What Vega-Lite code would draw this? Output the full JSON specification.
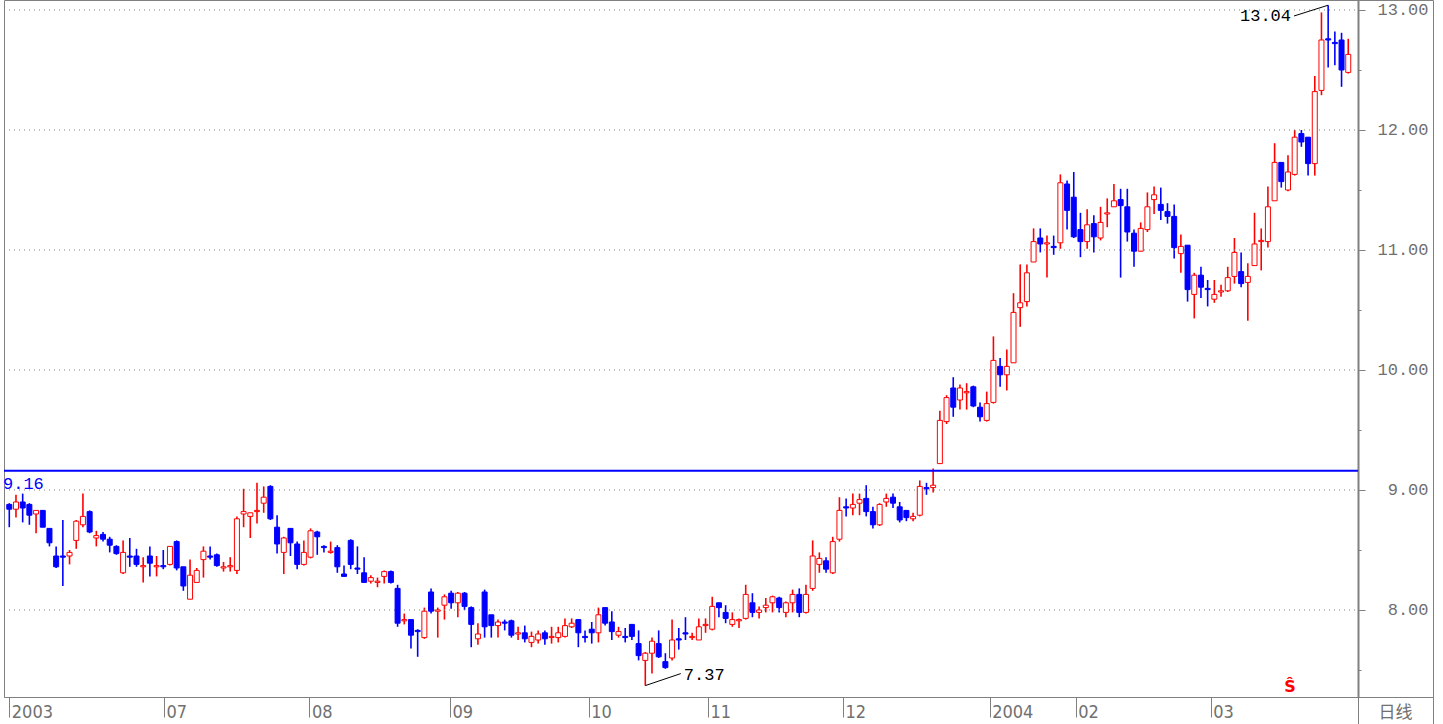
{
  "$schema": "https://vega.github.io/schema/vega-lite/v6.json",
  "width": 1429,
  "height": 697,
  "padding": {"left": 3, "top": 0, "right": 0, "bottom": 0},
  "background": "white",
  "config": {"view": {"stroke": "#808080", "strokeWidth": 1}},
  "datasets": {
    "grid": [{"level": 8}, {"level": 9}, {"level": 10}, {"level": 11}, {"level": 12}, {"level": 13}],
    "ref": [{"v": 9.16, "label": "9.16"}],
    "leaders": [
      {"g": "hi", "i": 191.9, "p": 12.95}, {"g": "hi", "i": 197, "p": 13.04},
      {"g": "lo", "i": 95, "p": 7.37}, {"g": "lo", "i": 100.3, "p": 7.47}
    ],
    "hiLabel": [{"t": "13.04", "i": 191.45, "p": 12.95}],
    "loLabel": [{"t": "7.37", "i": 100.75, "p": 7.46}],
    "mark": [{"t": "Ŝ", "i": 191.3, "p": 7.29}],
    "k": [
      {"i":0,"o":8.88,"h":8.89,"l":8.69,"c":8.84},
      {"i":1,"o":8.84,"h":8.96,"l":8.77,"c":8.90},
      {"i":2,"o":8.90,"h":8.97,"l":8.73,"c":8.85},
      {"i":3,"o":8.88,"h":8.89,"l":8.71,"c":8.79},
      {"i":4,"o":8.80,"h":8.83,"l":8.64,"c":8.83},
      {"i":5,"o":8.83,"h":8.83,"l":8.69,"c":8.69},
      {"i":6,"o":8.68,"h":8.68,"l":8.53,"c":8.56},
      {"i":7,"o":8.45,"h":8.53,"l":8.35,"c":8.36},
      {"i":8,"o":8.45,"h":8.75,"l":8.20,"c":8.44},
      {"i":9,"o":8.45,"h":8.50,"l":8.38,"c":8.48},
      {"i":10,"o":8.58,"h":8.75,"l":8.51,"c":8.74},
      {"i":11,"o":8.71,"h":8.97,"l":8.69,"c":8.78},
      {"i":12,"o":8.82,"h":8.83,"l":8.64,"c":8.65},
      {"i":13,"o":8.60,"h":8.66,"l":8.53,"c":8.62},
      {"i":14,"o":8.63,"h":8.65,"l":8.57,"c":8.59},
      {"i":15,"o":8.59,"h":8.61,"l":8.48,"c":8.54},
      {"i":16,"o":8.53,"h":8.54,"l":8.46,"c":8.47},
      {"i":17,"o":8.31,"h":8.58,"l":8.30,"c":8.48},
      {"i":18,"o":8.45,"h":8.60,"l":8.36,"c":8.44},
      {"i":19,"o":8.45,"h":8.51,"l":8.36,"c":8.38},
      {"i":20,"o":8.36,"h":8.44,"l":8.23,"c":8.37},
      {"i":21,"o":8.45,"h":8.53,"l":8.28,"c":8.39},
      {"i":22,"o":8.36,"h":8.45,"l":8.28,"c":8.37},
      {"i":23,"o":8.37,"h":8.50,"l":8.34,"c":8.36},
      {"i":24,"o":8.38,"h":8.53,"l":8.37,"c":8.53},
      {"i":25,"o":8.57,"h":8.58,"l":8.33,"c":8.35},
      {"i":26,"o":8.36,"h":8.36,"l":8.16,"c":8.20},
      {"i":27,"o":8.09,"h":8.42,"l":8.09,"c":8.29},
      {"i":28,"o":8.23,"h":8.35,"l":8.23,"c":8.33},
      {"i":29,"o":8.42,"h":8.53,"l":8.27,"c":8.49},
      {"i":30,"o":8.45,"h":8.53,"l":8.42,"c":8.44},
      {"i":31,"o":8.46,"h":8.47,"l":8.36,"c":8.37},
      {"i":32,"o":8.35,"h":8.40,"l":8.32,"c":8.36},
      {"i":33,"o":8.36,"h":8.44,"l":8.32,"c":8.37},
      {"i":34,"o":8.33,"h":8.78,"l":8.30,"c":8.76},
      {"i":35,"o":8.80,"h":9.01,"l":8.69,"c":8.82},
      {"i":36,"o":8.78,"h":8.81,"l":8.60,"c":8.81},
      {"i":37,"o":8.82,"h":9.06,"l":8.72,"c":8.83},
      {"i":38,"o":8.89,"h":9.03,"l":8.81,"c":8.94},
      {"i":39,"o":9.03,"h":9.04,"l":8.75,"c":8.76},
      {"i":40,"o":8.69,"h":8.79,"l":8.47,"c":8.55},
      {"i":41,"o":8.48,"h":8.61,"l":8.30,"c":8.60},
      {"i":42,"o":8.68,"h":8.68,"l":8.45,"c":8.56},
      {"i":43,"o":8.55,"h":8.57,"l":8.34,"c":8.38},
      {"i":44,"o":8.38,"h":8.58,"l":8.37,"c":8.48},
      {"i":45,"o":8.44,"h":8.68,"l":8.43,"c":8.66},
      {"i":46,"o":8.65,"h":8.66,"l":8.46,"c":8.61},
      {"i":47,"o":8.53,"h":8.54,"l":8.48,"c":8.52},
      {"i":48,"o":8.48,"h":8.57,"l":8.47,"c":8.49},
      {"i":49,"o":8.52,"h":8.54,"l":8.31,"c":8.36},
      {"i":50,"o":8.30,"h":8.37,"l":8.28,"c":8.28},
      {"i":51,"o":8.58,"h":8.59,"l":8.34,"c":8.38},
      {"i":52,"o":8.35,"h":8.53,"l":8.30,"c":8.34},
      {"i":53,"o":8.31,"h":8.44,"l":8.23,"c":8.23},
      {"i":54,"o":8.24,"h":8.29,"l":8.22,"c":8.27},
      {"i":55,"o":8.23,"h":8.27,"l":8.19,"c":8.24},
      {"i":56,"o":8.28,"h":8.33,"l":8.22,"c":8.32},
      {"i":57,"o":8.32,"h":8.33,"l":8.22,"c":8.23},
      {"i":58,"o":8.18,"h":8.21,"l":7.86,"c":7.89},
      {"i":59,"o":7.91,"h":7.97,"l":7.88,"c":7.92},
      {"i":60,"o":7.92,"h":7.92,"l":7.68,"c":7.79},
      {"i":61,"o":7.83,"h":7.84,"l":7.61,"c":7.82},
      {"i":62,"o":7.77,"h":8.02,"l":7.76,"c":7.99},
      {"i":63,"o":8.15,"h":8.18,"l":7.97,"c":7.99},
      {"i":64,"o":7.99,"h":8.02,"l":7.77,"c":8.00},
      {"i":65,"o":8.04,"h":8.13,"l":7.92,"c":8.11},
      {"i":66,"o":8.14,"h":8.16,"l":8.01,"c":8.06},
      {"i":67,"o":8.06,"h":8.15,"l":7.94,"c":8.14},
      {"i":68,"o":8.14,"h":8.15,"l":8.00,"c":8.03},
      {"i":69,"o":8.02,"h":8.03,"l":7.69,"c":7.88},
      {"i":70,"o":7.76,"h":7.89,"l":7.71,"c":7.80},
      {"i":71,"o":8.15,"h":8.17,"l":7.77,"c":7.86},
      {"i":72,"o":7.96,"h":7.96,"l":7.77,"c":7.87},
      {"i":73,"o":7.87,"h":7.92,"l":7.77,"c":7.90},
      {"i":74,"o":7.90,"h":7.92,"l":7.83,"c":7.89},
      {"i":75,"o":7.91,"h":7.92,"l":7.77,"c":7.79},
      {"i":76,"o":7.80,"h":7.86,"l":7.75,"c":7.81},
      {"i":77,"o":7.81,"h":7.87,"l":7.73,"c":7.76},
      {"i":78,"o":7.73,"h":7.82,"l":7.69,"c":7.78},
      {"i":79,"o":7.75,"h":7.83,"l":7.72,"c":7.80},
      {"i":80,"o":7.81,"h":7.83,"l":7.71,"c":7.76},
      {"i":81,"o":7.77,"h":7.86,"l":7.72,"c":7.78},
      {"i":82,"o":7.77,"h":7.86,"l":7.73,"c":7.81},
      {"i":83,"o":7.78,"h":7.93,"l":7.77,"c":7.87},
      {"i":84,"o":7.86,"h":7.93,"l":7.85,"c":7.89},
      {"i":85,"o":7.92,"h":7.92,"l":7.69,"c":7.81},
      {"i":86,"o":7.78,"h":7.83,"l":7.73,"c":7.77},
      {"i":87,"o":7.84,"h":7.90,"l":7.72,"c":7.81},
      {"i":88,"o":7.81,"h":8.02,"l":7.73,"c":7.96},
      {"i":89,"o":8.02,"h":8.02,"l":7.87,"c":7.89},
      {"i":90,"o":7.90,"h":7.99,"l":7.75,"c":7.82},
      {"i":91,"o":7.79,"h":7.86,"l":7.77,"c":7.82},
      {"i":92,"o":7.78,"h":7.85,"l":7.73,"c":7.77},
      {"i":93,"o":7.88,"h":7.88,"l":7.75,"c":7.78},
      {"i":94,"o":7.72,"h":7.83,"l":7.58,"c":7.62},
      {"i":95,"o":7.58,"h":7.65,"l":7.37,"c":7.64},
      {"i":96,"o":7.64,"h":7.77,"l":7.47,"c":7.74},
      {"i":97,"o":7.72,"h":7.83,"l":7.60,"c":7.61},
      {"i":98,"o":7.57,"h":7.64,"l":7.51,"c":7.52},
      {"i":99,"o":7.60,"h":7.92,"l":7.58,"c":7.75},
      {"i":100,"o":7.76,"h":7.85,"l":7.67,"c":7.75},
      {"i":101,"o":7.81,"h":7.94,"l":7.75,"c":7.80},
      {"i":102,"o":7.77,"h":7.81,"l":7.75,"c":7.78},
      {"i":103,"o":7.75,"h":7.93,"l":7.75,"c":7.86},
      {"i":104,"o":7.87,"h":7.93,"l":7.81,"c":7.88},
      {"i":105,"o":7.84,"h":8.11,"l":7.83,"c":8.03},
      {"i":106,"o":8.06,"h":8.06,"l":7.94,"c":8.02},
      {"i":107,"o":7.98,"h":8.04,"l":7.89,"c":7.93},
      {"i":108,"o":7.88,"h":7.98,"l":7.86,"c":7.92},
      {"i":109,"o":7.91,"h":7.93,"l":7.85,"c":7.92},
      {"i":110,"o":7.93,"h":8.21,"l":7.92,"c":8.13},
      {"i":111,"o":8.06,"h":8.14,"l":7.94,"c":7.98},
      {"i":112,"o":7.98,"h":8.03,"l":7.93,"c":8.00},
      {"i":113,"o":8.02,"h":8.10,"l":7.98,"c":8.04},
      {"i":114,"o":8.06,"h":8.12,"l":7.98,"c":8.11},
      {"i":115,"o":8.10,"h":8.11,"l":7.98,"c":8.02},
      {"i":116,"o":7.98,"h":8.07,"l":7.94,"c":8.06},
      {"i":117,"o":8.06,"h":8.17,"l":7.98,"c":8.13},
      {"i":118,"o":8.13,"h":8.18,"l":7.94,"c":7.98},
      {"i":119,"o":7.98,"h":8.21,"l":7.97,"c":8.13},
      {"i":120,"o":8.18,"h":8.58,"l":8.16,"c":8.45},
      {"i":121,"o":8.38,"h":8.48,"l":8.31,"c":8.43},
      {"i":122,"o":8.41,"h":8.44,"l":8.31,"c":8.34},
      {"i":123,"o":8.31,"h":8.61,"l":8.30,"c":8.57},
      {"i":124,"o":8.59,"h":8.94,"l":8.57,"c":8.83},
      {"i":125,"o":8.86,"h":8.93,"l":8.78,"c":8.85},
      {"i":126,"o":8.85,"h":8.97,"l":8.79,"c":8.88},
      {"i":127,"o":8.89,"h":8.97,"l":8.79,"c":8.92},
      {"i":128,"o":8.93,"h":9.04,"l":8.78,"c":8.82},
      {"i":129,"o":8.82,"h":8.86,"l":8.68,"c":8.71},
      {"i":130,"o":8.71,"h":8.89,"l":8.70,"c":8.88},
      {"i":131,"o":8.90,"h":8.97,"l":8.86,"c":8.93},
      {"i":132,"o":8.94,"h":8.97,"l":8.85,"c":8.89},
      {"i":133,"o":8.86,"h":8.90,"l":8.73,"c":8.75},
      {"i":134,"o":8.83,"h":8.83,"l":8.74,"c":8.77},
      {"i":135,"o":8.76,"h":8.81,"l":8.74,"c":8.78},
      {"i":136,"o":8.79,"h":9.08,"l":8.78,"c":9.03},
      {"i":137,"o":9.02,"h":9.06,"l":8.96,"c":9.01},
      {"i":138,"o":9.02,"h":9.18,"l":8.98,"c":9.04},
      {"i":139,"o":9.22,"h":9.66,"l":9.22,"c":9.58},
      {"i":140,"o":9.57,"h":9.79,"l":9.55,"c":9.77},
      {"i":141,"o":9.85,"h":9.94,"l":9.61,"c":9.69},
      {"i":142,"o":9.75,"h":9.88,"l":9.67,"c":9.85},
      {"i":143,"o":9.81,"h":9.89,"l":9.67,"c":9.82},
      {"i":144,"o":9.86,"h":9.87,"l":9.69,"c":9.70},
      {"i":145,"o":9.69,"h":9.73,"l":9.57,"c":9.61},
      {"i":146,"o":9.58,"h":9.82,"l":9.57,"c":9.72},
      {"i":147,"o":9.73,"h":10.28,"l":9.72,"c":10.08},
      {"i":148,"o":10.03,"h":10.10,"l":9.86,"c":9.96},
      {"i":149,"o":9.96,"h":10.17,"l":9.83,"c":10.03},
      {"i":150,"o":10.06,"h":10.64,"l":10.06,"c":10.48},
      {"i":151,"o":10.52,"h":10.88,"l":10.36,"c":10.56},
      {"i":152,"o":10.57,"h":10.88,"l":10.53,"c":10.81},
      {"i":153,"o":10.90,"h":11.18,"l":10.90,"c":11.07},
      {"i":154,"o":11.10,"h":11.18,"l":10.98,"c":11.05},
      {"i":155,"o":11.05,"h":11.12,"l":10.77,"c":11.06},
      {"i":156,"o":11.03,"h":11.12,"l":10.96,"c":11.02},
      {"i":157,"o":11.06,"h":11.63,"l":11.01,"c":11.56},
      {"i":158,"o":11.55,"h":11.58,"l":11.17,"c":11.33},
      {"i":159,"o":11.44,"h":11.65,"l":11.10,"c":11.11},
      {"i":160,"o":11.17,"h":11.31,"l":10.94,"c":11.07},
      {"i":161,"o":11.07,"h":11.34,"l":11.01,"c":11.21},
      {"i":162,"o":11.22,"h":11.29,"l":10.98,"c":11.11},
      {"i":163,"o":11.10,"h":11.36,"l":11.08,"c":11.23},
      {"i":164,"o":11.30,"h":11.43,"l":11.19,"c":11.31},
      {"i":165,"o":11.36,"h":11.55,"l":11.36,"c":11.41},
      {"i":166,"o":11.42,"h":11.51,"l":10.77,"c":11.37},
      {"i":167,"o":11.36,"h":11.51,"l":11.07,"c":11.15},
      {"i":168,"o":11.14,"h":11.17,"l":10.86,"c":10.99},
      {"i":169,"o":10.99,"h":11.23,"l":10.99,"c":11.18},
      {"i":170,"o":11.17,"h":11.48,"l":11.15,"c":11.36},
      {"i":171,"o":11.42,"h":11.53,"l":11.30,"c":11.46},
      {"i":172,"o":11.38,"h":11.52,"l":11.25,"c":11.33},
      {"i":173,"o":11.32,"h":11.39,"l":11.22,"c":11.28},
      {"i":174,"o":11.28,"h":11.38,"l":10.93,"c":11.02},
      {"i":175,"o":10.97,"h":11.13,"l":10.81,"c":11.03},
      {"i":176,"o":11.04,"h":11.04,"l":10.57,"c":10.67},
      {"i":177,"o":10.63,"h":10.81,"l":10.43,"c":10.79},
      {"i":178,"o":10.79,"h":10.86,"l":10.60,"c":10.69},
      {"i":179,"o":10.68,"h":10.75,"l":10.53,"c":10.67},
      {"i":180,"o":10.59,"h":10.75,"l":10.56,"c":10.63},
      {"i":181,"o":10.65,"h":10.71,"l":10.61,"c":10.66},
      {"i":182,"o":10.66,"h":10.86,"l":10.65,"c":10.77},
      {"i":183,"o":10.78,"h":11.10,"l":10.72,"c":10.98},
      {"i":184,"o":10.82,"h":10.98,"l":10.69,"c":10.72},
      {"i":185,"o":10.73,"h":10.89,"l":10.41,"c":10.78},
      {"i":186,"o":10.87,"h":11.31,"l":10.87,"c":11.05},
      {"i":187,"o":11.07,"h":11.18,"l":10.83,"c":11.08},
      {"i":188,"o":11.07,"h":11.53,"l":11.02,"c":11.36},
      {"i":189,"o":11.41,"h":11.89,"l":11.41,"c":11.73},
      {"i":190,"o":11.73,"h":11.73,"l":11.52,"c":11.57},
      {"i":191,"o":11.50,"h":11.79,"l":11.49,"c":11.65},
      {"i":192,"o":11.63,"h":12.00,"l":11.62,"c":11.94},
      {"i":193,"o":11.97,"h":12.00,"l":11.86,"c":11.90},
      {"i":194,"o":11.94,"h":11.94,"l":11.62,"c":11.72},
      {"i":195,"o":11.72,"h":12.45,"l":11.62,"c":12.32},
      {"i":196,"o":12.33,"h":12.98,"l":12.29,"c":12.75},
      {"i":197,"o":12.76,"h":13.04,"l":12.52,"c":12.75},
      {"i":198,"o":12.73,"h":12.82,"l":12.54,"c":12.72},
      {"i":199,"o":12.75,"h":12.81,"l":12.36,"c":12.50},
      {"i":200,"o":12.48,"h":12.76,"l":12.47,"c":12.63}
    ]
  },
  "layer": [
    {
      "data": {"name": "k"},
      "mark": {"type": "rule", "strokeWidth": 1.6},
      "encoding": {
        "x": {
          "field": "i", "type": "quantitative",
          "scale": {"domain": [-0.79, 212.66], "nice": false, "zero": false, "padding": 0},
          "axis": {
            "orient": "bottom",
            "values": [0, 23.11, 44.84, 65.83, 86.54, 104.36, 124.53, 146.44, 159.3, 179.46, 201.45, 212.6],
            "labelExpr": "datum.value < 1 ? '2003' : datum.value < 24 ? '07' : datum.value < 45 ? '08' : datum.value < 66 ? '09' : datum.value < 87 ? '10' : datum.value < 105 ? '11' : datum.value < 125 ? '12' : datum.value < 147 ? '2004' : datum.value < 160 ? '02' : datum.value < 180 ? '03' : ''",
            "labelAlign": "left",
            "labelBaseline": "top",
            "labelOffset": 2,
            "labelPadding": -14,
            "labelFlush": false,
            "labelOverlap": false,
            "labelBound": false,
            "labelFont": "Liberation Sans Narrow, DejaVu Sans Condensed, sans-serif",
            "labelFontSize": 18,
            "labelColor": "#707070",
            "tickSize": {"condition": {"test": "datum.value > 200", "value": 27}, "value": 20},
            "tickColor": "#808080",
            "domainColor": "#808080",
            "grid": false,
            "title": "日线",
            "titleX": 1391,
            "titleY": 15,
            "titleAlign": "center",
            "titleBaseline": "middle",
            "titleFont": "Noto Sans CJK SC",
            "titleFontSize": 17,
            "titleFontWeight": "normal",
            "titleColor": "#707070"
          }
        },
        "y": {
          "field": "l", "type": "quantitative",
          "scale": {"domain": [7.275, 13.0833], "nice": false, "zero": false},
          "axis": {
            "orient": "right",
            "offset": -75,
            "values": [7.5, 7.75, 8, 8.25, 8.5, 8.75, 9, 9.25, 9.5, 9.75, 10, 10.25, 10.5, 10.75, 11, 11.25, 11.5, 11.75, 12, 12.25, 12.5, 12.75, 13],
            "labelExpr": "datum.value % 1 == 0 ? format(datum.value, '.2f') : ''",
            "tickSize": {"condition": {"test": "datum.value % 1 == 0", "value": 7}, "value": 3},
            "tickColor": "#808080",
            "domainColor": "#808080",
            "domainWidth": 2,
            "grid": false,
            "labelAlign": "right",
            "labelBaseline": "middle",
            "labelPadding": 63,
            "labelOverlap": false,
            "labelBound": false,
            "labelFont": "Liberation Mono, DejaVu Sans Mono, monospace",
            "labelFontSize": 17,
            "labelColor": "#707070",
            "title": null
          }
        },
        "y2": {"field": "h"},
        "color": {"condition": {"test": "datum.c >= datum.o", "value": "#ff0000"}, "value": "#0000ff"}
      }
    },
    {
      "data": {"name": "grid"},
      "mark": {"type": "rule", "color": "#808080", "strokeWidth": 1, "strokeDash": [1, 4]},
      "encoding": {
        "y": {"field": "level", "type": "quantitative", "scale": {"domain": [7.275, 13.0833], "nice": false, "zero": false}},
        "x": {"datum": -0.79, "type": "quantitative", "scale": {"domain": [-0.79, 212.66], "nice": false, "zero": false, "padding": 0}},
        "x2": {"datum": 201.45}
      }
    },
    {
      "data": {"name": "k"},
      "mark": {"type": "bar", "size": 5, "strokeWidth": 1},
      "encoding": {
        "x": {"field": "i", "type": "quantitative", "scale": {"domain": [-0.79, 212.66], "nice": false, "zero": false, "padding": 0}},
        "y": {"field": "o", "type": "quantitative", "scale": {"domain": [7.275, 13.0833], "nice": false, "zero": false}},
        "y2": {"field": "c"},
        "fill": {"condition": {"test": "datum.c >= datum.o", "value": "#ffffff"}, "value": "#0000ff"},
        "stroke": {"condition": {"test": "datum.c >= datum.o", "value": "#ff0000"}, "value": "#0000ff"}
      }
    },
    {
      "data": {"name": "ref"},
      "mark": {"type": "rule", "color": "#0000ff", "strokeWidth": 2},
      "encoding": {
        "y": {"field": "v", "type": "quantitative", "scale": {"domain": [7.275, 13.0833], "nice": false, "zero": false}},
        "x": {"datum": -0.79, "type": "quantitative", "scale": {"domain": [-0.79, 212.66], "nice": false, "zero": false, "padding": 0}},
        "x2": {"datum": 201.45}
      }
    },
    {
      "data": {"name": "ref"},
      "mark": {"type": "text", "color": "#0000ff", "align": "left", "baseline": "top", "dy": 5, "dx": -1, "font": "Liberation Mono, DejaVu Sans Mono, monospace", "fontSize": 17},
      "encoding": {
        "y": {"field": "v", "type": "quantitative", "scale": {"domain": [7.275, 13.0833], "nice": false, "zero": false}},
        "x": {"datum": -0.79, "type": "quantitative", "scale": {"domain": [-0.79, 212.66], "nice": false, "zero": false, "padding": 0}},
        "text": {"field": "label"}
      }
    },
    {
      "data": {"name": "leaders"},
      "mark": {"type": "line", "color": "#000000", "strokeWidth": 1},
      "encoding": {
        "x": {"field": "i", "type": "quantitative", "scale": {"domain": [-0.79, 212.66], "nice": false, "zero": false, "padding": 0}},
        "y": {"field": "p", "type": "quantitative", "scale": {"domain": [7.275, 13.0833], "nice": false, "zero": false}},
        "detail": {"field": "g"}
      }
    },
    {
      "data": {"name": "hiLabel"},
      "mark": {"type": "text", "color": "#000000", "align": "right", "baseline": "middle", "font": "Liberation Mono, DejaVu Sans Mono, monospace", "fontSize": 17},
      "encoding": {
        "x": {"field": "i", "type": "quantitative", "scale": {"domain": [-0.79, 212.66], "nice": false, "zero": false, "padding": 0}},
        "y": {"field": "p", "type": "quantitative", "scale": {"domain": [7.275, 13.0833], "nice": false, "zero": false}},
        "text": {"field": "t"}
      }
    },
    {
      "data": {"name": "loLabel"},
      "mark": {"type": "text", "color": "#000000", "align": "left", "baseline": "middle", "font": "Liberation Mono, DejaVu Sans Mono, monospace", "fontSize": 17},
      "encoding": {
        "x": {"field": "i", "type": "quantitative", "scale": {"domain": [-0.79, 212.66], "nice": false, "zero": false, "padding": 0}},
        "y": {"field": "p", "type": "quantitative", "scale": {"domain": [7.275, 13.0833], "nice": false, "zero": false}},
        "text": {"field": "t"}
      }
    },
    {
      "data": {"name": "mark"},
      "mark": {"type": "text", "color": "#ff0000", "align": "center", "baseline": "bottom", "font": "DejaVu Sans", "fontWeight": "bold", "fontSize": 16},
      "encoding": {
        "x": {"field": "i", "type": "quantitative", "scale": {"domain": [-0.79, 212.66], "nice": false, "zero": false, "padding": 0}},
        "y": {"field": "p", "type": "quantitative", "scale": {"domain": [7.275, 13.0833], "nice": false, "zero": false}},
        "text": {"field": "t"}
      }
    }
  ]
}
